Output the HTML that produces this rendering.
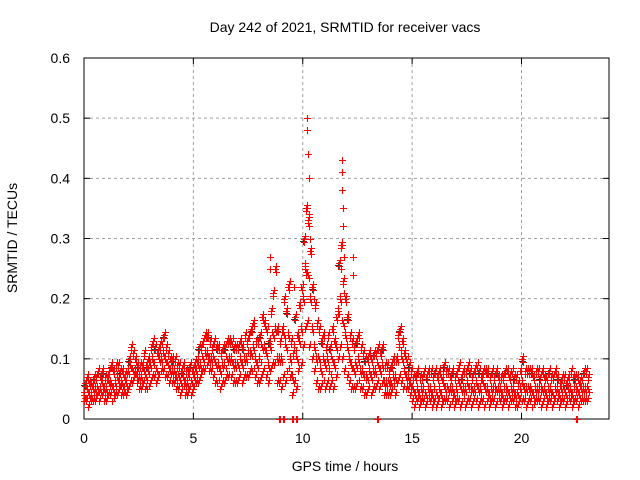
<!DOCTYPE html>
<html><head><meta charset="utf-8"><style>
body{margin:0;background:#fff;width:640px;height:480px;overflow:hidden}
svg{display:block;font-family:"Liberation Sans",sans-serif}
</style></head><body>
<svg id="chart" width="640" height="480" viewBox="0 0 640 480">
<rect width="640" height="480" fill="#fff"/>
<g id="grid"></g>
<g id="axes"></g>
<g id="marks"></g>
<text x="345" y="32" text-anchor="middle" font-size="14">Day 242 of 2021, SRMTID for receiver vacs</text>
<text x="345" y="471" text-anchor="middle" font-size="14">GPS time / hours</text>
<text transform="translate(17,238) rotate(-90)" text-anchor="middle" font-size="14">SRMTID / TECUs</text>
</svg>
<script>
const xTicks=[0,5,10,15,20];
const yTicks=[0,0.1,0.2,0.3,0.4,0.5,0.6];
const yTickLabels=["0","0.1","0.2","0.3","0.4","0.5","0.6"];
const slotStart=0, slotStep=0.1;
const lowVals=[.03,.03,.02,.03,.03,.03,.04,.03,.04,.03,.03,.04,.04,.03,.04,.04,.05,.04,.04,.04,.05,.06,.06,.07,.06,.05,.05,.06,.05,.05,.06,.07,.07,.06,.07,.08,.08,.07,.07,.06,.06,.06,.05,.05,.04,.05,.04,.04,.05,.04,.05,.06,.06,.07,.08,.08,.09,.08,.08,.07,.06,.06,.05,.06,.06,.07,.07,.07,.06,.06,.06,.07,.06,.07,.07,.07,.08,.08,.07,.06,.06,.07,.08,.07,.06,.08,.09,.09,.06,.06,.05,.07,.06,.08,.07,.04,.06,.05,.08,.09,.12,.15,.16,.12,.1,.08,.06,.05,.05,.06,.05,.06,.05,.06,.05,.07,.1,.12,.1,.08,.07,.06,.05,.05,.05,.06,.05,.05,.04,.04,.05,.04,.05,.05,.06,.05,.06,.04,.04,.04,.04,.05,.04,.06,.07,.06,.05,.05,.05,.04,.03,.02,.03,.02,.03,.03,.02,.03,.03,.02,.03,.02,.03,.02,.03,.03,.03,.02,.03,.02,.03,.03,.02,.03,.02,.03,.03,.02,.03,.03,.02,.03,.03,.02,.03,.02,.03,.03,.02,.03,.03,.02,.03,.03,.02,.03,.03,.02,.02,.03,.03,.03,.02,.03,.03,.02,.03,.03,.03,.02,.03,.02,.03,.03,.02,.03,.03,.02,.03,.03,.02,.03,.03,.02,.03,.03,.02,.03,.03,.03,.03];
const midVals=[.04,.05,.04,.04,.05,.05,.05,.05,.06,.05,.05,.06,.06,.05,.06,.07,.06,.06,.05,.06,.08,.09,.08,.08,.07,.07,.07,.08,.07,.08,.09,.1,.09,.08,.1,.1,.11,.1,.09,.08,.08,.08,.07,.07,.06,.07,.06,.06,.07,.06,.07,.08,.09,.09,.1,.11,.11,.1,.1,.1,.09,.09,.08,.09,.09,.1,.1,.1,.09,.09,.09,.1,.09,.1,.1,.11,.11,.12,.1,.09,.1,.12,.12,.11,.09,.12,.14,.15,.1,.1,.1,.14,.12,.14,.1,.07,.12,.1,.13,.15,.2,.25,.24,.2,.15,.12,.1,.1,.08,.1,.09,.1,.08,.1,.09,.12,.18,.2,.16,.14,.12,.1,.09,.08,.09,.1,.08,.08,.07,.07,.08,.07,.08,.08,.09,.08,.09,.06,.06,.06,.06,.07,.07,.1,.12,.1,.08,.07,.07,.06,.05,.04,.05,.04,.05,.05,.04,.05,.05,.04,.05,.04,.05,.04,.06,.05,.05,.05,.05,.04,.05,.06,.05,.05,.05,.06,.05,.05,.05,.06,.05,.05,.06,.05,.05,.04,.05,.05,.05,.05,.05,.04,.05,.05,.04,.05,.05,.04,.04,.05,.06,.05,.05,.05,.05,.04,.05,.05,.05,.05,.05,.04,.05,.05,.04,.05,.05,.04,.05,.05,.04,.05,.05,.04,.05,.05,.04,.05,.05,.05,.05];
const highVals=[.06,.07,.06,.06,.07,.07,.08,.07,.08,.07,.07,.08,.09,.08,.09,.09,.08,.08,.07,.08,.1,.12,.11,.1,.09,.09,.09,.11,.09,.1,.12,.13,.12,.11,.12,.13,.14,.12,.11,.1,.1,.1,.09,.09,.08,.09,.08,.08,.09,.08,.09,.1,.12,.12,.13,.14,.14,.13,.12,.13,.12,.12,.11,.12,.12,.13,.13,.13,.12,.12,.12,.13,.12,.14,.13,.14,.15,.16,.13,.13,.14,.17,.16,.15,.13,.18,.21,.25,.15,.13,.15,.2,.18,.22,.13,.11,.17,.14,.19,.22,.3,.35,.33,.28,.22,.19,.16,.15,.13,.14,.12,.14,.12,.15,.13,.17,.26,.29,.23,.2,.17,.14,.13,.12,.13,.14,.12,.11,.1,.1,.11,.1,.11,.11,.12,.11,.12,.09,.09,.08,.09,.1,.1,.14,.15,.13,.11,.1,.09,.08,.07,.07,.08,.07,.07,.08,.07,.08,.08,.07,.08,.07,.08,.07,.09,.08,.08,.07,.08,.07,.08,.09,.07,.08,.08,.09,.08,.07,.08,.09,.08,.07,.08,.08,.08,.07,.08,.07,.08,.07,.07,.07,.08,.08,.07,.08,.07,.07,.06,.08,.1,.08,.08,.08,.08,.07,.08,.08,.07,.08,.07,.07,.08,.07,.07,.08,.07,.06,.07,.07,.06,.07,.08,.07,.07,.07,.06,.07,.08,.08,.07];
const spikeTimes=[10.2,10.2,10.25,10.3,10.2,10.3,11.8,11.8,11.8,11.85,11.85,11.8,11.9,12.3,12.3,8.5,8.5,9.4,9.6,10.35,10.1,10.5,11.9,10.15,10.3,11.75];
const spikeVals=[.50,.48,.44,.40,.35,.34,.43,.41,.38,.35,.32,.29,.27,.27,.24,.27,.25,.23,.22,.30,.26,.20,.21,.24,.32,.25];
const zeroTimes=[8.9,8.95,9.1,9.15,9.5,9.55,9.7,9.75,13.4,13.45,22.5,22.55];
const zeroVals=[0,0,0,0,0,0,0,0,0,0,0,0];

const L=84,R=609,T=58,B=419,XMAX=24,YMAX=0.6;
const xs=v=>L+(v/XMAX)*(R-L);
const ys=v=>B-(v/YMAX)*(B-T);
const NS="http://www.w3.org/2000/svg";
const grid=document.getElementById('grid'),axes=document.getElementById('axes'),marks=document.getElementById('marks');
function mk(tag,attrs,parent){const e=document.createElementNS(NS,tag);for(const k in attrs)e.setAttribute(k,attrs[k]);parent.appendChild(e);return e;}
yTicks.forEach((v,i)=>{
  const y=ys(v);
  if(v>0&&v<YMAX){const g=mk('line',{x1:L,x2:R,y1:y,y2:y,stroke:'#a0a0a0','stroke-dasharray':'3,3'},grid);
  
  }
  mk('line',{x1:L,x2:L+6,y1:y,y2:y,stroke:'#000'},axes);
  mk('line',{x1:R,x2:R-6,y1:y,y2:y,stroke:'#000'},axes);
  const t=mk('text',{x:L-14,y:y+5,'text-anchor':'end','font-size':'14'},axes);
  t.textContent=yTickLabels[i];
  
  
});
xTicks.forEach(v=>{
  const x=xs(v);
  if(v>0){const g=mk('line',{x1:x,x2:x,y1:T,y2:B,stroke:'#a0a0a0','stroke-dasharray':'3,3'},grid);
  
  }
  mk('line',{x1:x,x2:x,y1:B,y2:B-6,stroke:'#000'},axes);
  mk('line',{x1:x,x2:x,y1:T,y2:T+6,stroke:'#000'},axes);
  const t=mk('text',{x:x,y:B+24,'text-anchor':'middle','font-size':'14'},axes);
  t.textContent=String(v);
  
  
});
const frame=mk('rect',{x:L,y:T,width:R-L,height:B-T,fill:'none',stroke:'#000'},axes);


function plus(t,v,color,dy){
  const x=Math.round(xs(t))+0.5,y=Math.round(ys(v)+(dy||0))+0.5;
  const p=mk('path',{d:`M${x-3.5} ${y}h7M${x} ${y-3.5}v7`,stroke:color,'stroke-width':'1.1',fill:'none'},marks);
  
  
}
for(let i=0;i<lowVals.length;i+=4){
  plus(slotStart+i*slotStep+0.02,highVals[i],'#333',2);
}
for(let i=0;i<lowVals.length;i++){
  const t=slotStart+i*slotStep;
  plus(t,lowVals[i],'#f00');
  plus(t+0.05,lowVals[i],'#f00',-3);
  plus(t+0.02,midVals[i],'#f00');
  plus(t+0.07,midVals[i],'#f00',3);
  plus(t+0.01,midVals[i],'#f00',-3);
  plus(t+0.04,highVals[i],'#f00');
  plus(t+0.09,highVals[i],'#f00',-3);
  plus(t+0.06,highVals[i],'#f00',3);
}
spikeTimes.forEach((t,i)=>plus(t,spikeVals[i],'#f00'));
zeroTimes.forEach((t,i)=>plus(t,zeroVals[i],'#f00'));
</script>
</body></html>
